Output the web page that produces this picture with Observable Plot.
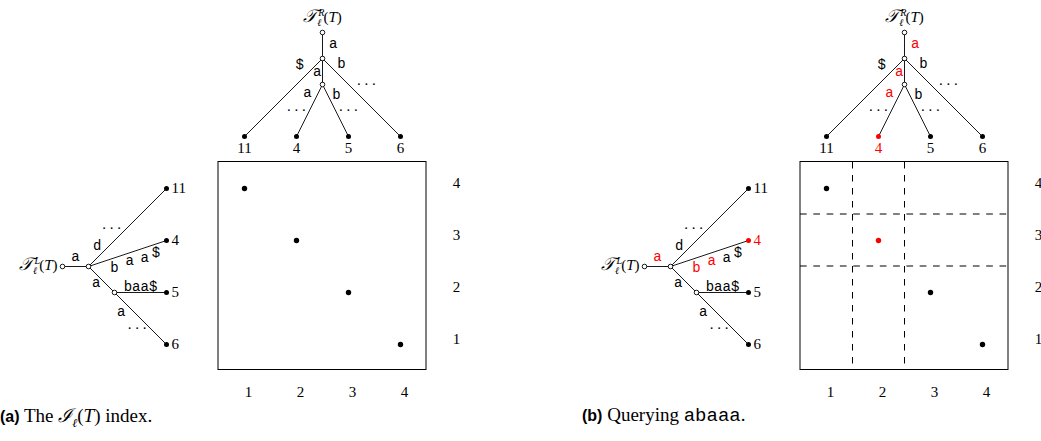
<!DOCTYPE html>
<html><head><meta charset="utf-8">
<script src="https://cdn.jsdelivr.net/npm/d3@7"></script>
<script src="https://cdn.jsdelivr.net/npm/@observablehq/plot@0.6"></script>
<style>
html,body{margin:0;padding:0;background:#fff;overflow:hidden;width:1041px;height:441px}
.panel{position:absolute;top:0;width:520px;height:441px}
.panel svg{position:absolute;left:0;top:0;overflow:visible}
.cap{position:absolute;left:0;top:406px;white-space:nowrap;font-family:"Liberation Serif",serif;font-size:19px;line-height:18px;color:#000}
.cap b{font-family:"Liberation Sans","DejaVu Sans",sans-serif;font-weight:bold;font-size:16px}
.cap .tt{font-family:"Liberation Mono",monospace;font-size:19px}
.cap .cal{font-family:"DejaVu Serif",serif;font-style:italic;font-size:19px}
</style></head><body>
<div id="pa" class="panel" style="left:0"></div>
<div id="pb" class="panel" style="left:582px"></div>
<script>
// ---------------- data ----------------
const columns = [1, 2, 3, 4];                 // x tick labels
const rows = [1, 2, 3, 4];                    // y tick labels
const columnLeaves = ["11", "4", "5", "6"];   // leaves of T^R(T), column 1..4
const rowLeaves = ["6", "5", "4", "11"];      // leaves of T^L(T), row 1..4
const pointColumns = [1, 2, 3, 4];
const pointRows = [4, 3, 2, 1];
const rightEdges = [
  {parent: "root", child: "u", label: "a"},
  {parent: "u", child: "11", label: "$"},
  {parent: "u", child: "v", label: "a"},
  {parent: "v", child: "4", label: "a"},
  {parent: "v", child: "5", label: "b"},
  {parent: "u", child: "6", label: "b"}
];
const leftEdges = [
  {parent: "root", child: "u", label: "a"},
  {parent: "u", child: "11", label: "d"},
  {parent: "u", child: "4", label: "baa$"},
  {parent: "u", child: "v", label: "a"},
  {parent: "v", child: "5", label: "baa$"},
  {parent: "v", child: "6", label: "a"}
];
const query = "abaaa";
const queryLeaf = "4";          // leaf reached in both trees
const matchedLeft = 3;          // characters of the query matched in T^L
const matchedRight = 3;         // characters of the query matched in T^R
const queryColumns = [2, 2];    // column range reported
const queryRows = [3, 3];       // row range reported

// ---------------- layout (grid units) ----------------
const cell = 52, x0 = 244, y0 = 344;
const rightNodes = {root: [2.5, 7], u: [2.5, 6.5], v: [2.5, 6]};
const rightLeafRow = 5;
const leftNodes = {root: [-2.5, 2.5], u: [-2, 2.5], v: [-1.5, 2]};
const leftLeafCol = -0.5;
// label placement per edge (keyed by child): [t along edge, perpendicular px]
const rightLabelPlace = {u: [[0.45, 10.7]], "11": [[0.19, -11.3]], v: [[0.54, -5.2]], "4": [[0.254, -9.4]], "5": [[0.277, 7.6]], "6": [[0.16, 9]]};
const leftLabelPlace = {u: [[0.5, 8.7]], "11": [[0.184, 8]], "4": [[0.29, -10.2], [0.494, -8.2], [0.68, -9.8], [0.83, -8.8]], v: [[0.47, -6.4]], "5": [[0.5, 5.3]], "6": [[0.254, -9.2]]};
const rightEllipsis = [["4", 0.584, -12.1], ["5", 0.584, 12], ["6", 0.442, 13.4]];
const leftEllipsis = [["11", 0.395, 11], ["6", 0.55, -8.5]];

const RED = "#ff0000", INK = "#000";
const serif = "Liberation Serif, serif";
const mono = "Liberation Mono, monospace";

function buildTree(edges, nodes, leafPos, place, ellipsis, matched, highlight) {
  const pos = (id) => nodes[id] || leafPos(id);
  const byChild = new Map(edges.map(e => [e.child, e]));
  const path = [];
  let c = queryLeaf;
  while (byChild.has(c)) { path.unshift(byChild.get(c)); c = byChild.get(c).parent; }
  const redChars = new Map();
  let left = highlight ? matched : 0;
  for (const e of path) { const k = Math.min(left, e.label.length); redChars.set(e.child, k); left -= k; }
  const links = edges.map(e => {
    const [c1, r1] = pos(e.parent), [c2, r2] = pos(e.child);
    return {x1: c1, y1: r1, x2: c2, y2: r2};
  });
  const along = (e, t, off) => {
    const [c1, r1] = pos(e.parent), [c2, r2] = pos(e.child);
    const dc = c2 - c1, dr = r2 - r1, L = Math.hypot(dc, dr);
    return {x: c1 + t * dc - off * dr / (cell * L), y: r1 + t * dr + off * dc / (cell * L)};
  };
  const labels = [];
  for (const e of edges) {
    const pl = place[e.child];
    const nred = redChars.get(e.child) || 0;
    if (pl.length === 1) {
      labels.push({...along(e, pl[0][0], pl[0][1]), text: e.label, color: nred >= e.label.length ? RED : INK});
    } else {
      [...e.label].forEach((ch, i) => labels.push({...along(e, pl[i][0], pl[i][1]), text: ch, color: i < nred ? RED : INK}));
    }
  }
  const dots = ellipsis.map(([child, t, off]) => along(byChild.get(child), t, off));
  const internal = Object.keys(nodes).map(id => ({x: nodes[id][0], y: nodes[id][1]}));
  return {links, labels, dots, internal};
}

function panel(highlight) {
  const right = buildTree(rightEdges, rightNodes, id => [columnLeaves.indexOf(id) + 1, rightLeafRow], rightLabelPlace, rightEllipsis, matchedRight, highlight);
  const left = buildTree(leftEdges, leftNodes, id => [leftLeafCol, rowLeaves.indexOf(id) + 1], leftLabelPlace, leftEllipsis, matchedLeft, highlight);
  const topLeaves = columnLeaves.map((id, i) => ({x: columns[i], y: rightLeafRow, text: id, color: highlight && id === queryLeaf ? RED : INK}));
  const sideLeaves = rowLeaves.map((id, i) => ({x: leftLeafCol, y: rows[i], text: id, color: highlight && id === queryLeaf ? RED : INK}));
  const pts = pointColumns.map((c, i) => ({x: c, y: pointRows[i],
    color: highlight && c >= queryColumns[0] && c <= queryColumns[1] && pointRows[i] >= queryRows[0] && pointRows[i] <= queryRows[1] ? RED : INK}));
  const box = [{x1: columns[0] - 0.5, x2: columns[columns.length - 1] + 0.5, y1: rows[0] - 0.5, y2: rows[rows.length - 1] + 0.5}];
  const vBounds = highlight ? [queryColumns[0] - 0.5, queryColumns[1] + 0.5] : [];
  const hBounds = highlight ? [queryRows[1] + 0.5, queryRows[0] - 0.5] : [];
  const titles = [{x: rightNodes.root[0], y: rightNodes.root[1], text: "§R"}];
  const ltitles = [{x: leftNodes.root[0], y: leftNodes.root[1], text: "§L"}];
  const svg = Plot.plot({
    width: 520, height: 400, margin: 0,
    x: {type: "linear", domain: [1, 4], range: [x0, x0 + 3 * cell], axis: null},
    y: {type: "linear", domain: [1, 4], range: [y0, y0 - 3 * cell], axis: null},
    color: {type: "identity"},
    marks: [
      Plot.ruleX(vBounds, {x: d => d, y1: box[0].y2, y2: box[0].y1, stroke: INK, strokeWidth: 1, strokeDasharray: "6.5,6.5"}),
      Plot.ruleY(hBounds, {y: d => d, x1: box[0].x1, x2: box[0].x2, stroke: INK, strokeWidth: 1, strokeDasharray: "6.7,6.6", dy: -0.5}),
      Plot.rect(box, {x1: "x1", x2: "x2", y1: "y1", y2: "y2", fill: "none", stroke: INK, strokeWidth: 1, dy: -0.5}),
      Plot.dot(pts, {x: "x", y: "y", r: 2.7, fill: "color", stroke: null}),
      Plot.link(right.links, {x1: "x1", y1: "y1", x2: "x2", y2: "y2", stroke: INK, strokeWidth: 0.9}),
      Plot.link(left.links, {x1: "x1", y1: "y1", x2: "x2", y2: "y2", stroke: INK, strokeWidth: 0.9}),
      Plot.dot([...right.internal, ...left.internal], {x: "x", y: "y", r: 2.3, fill: "white", stroke: INK, strokeWidth: 0.9}),
      Plot.dot(topLeaves, {x: "x", y: "y", r: 2.5, fill: "color", stroke: null}),
      Plot.dot(sideLeaves, {x: "x", y: "y", r: 2.5, fill: "color", stroke: null}),
      Plot.text(topLeaves, {x: "x", y: "y", text: "text", fill: "color", dy: 12, fontSize: 15, fontFamily: serif}),
      Plot.text(sideLeaves, {x: "x", y: "y", text: "text", fill: "color", dx: 5, textAnchor: "start", fontSize: 15, fontFamily: serif}),
      Plot.text(columns, {x: d => d, y: box[0].y1, text: d => String(d), dy: 22, dx: 4, fontSize: 15, fontFamily: serif}),
      Plot.text(rows, {x: box[0].x2, y: d => d, text: d => String(d), dx: 30, dy: -5, fontSize: 15, fontFamily: serif}),
      Plot.text([...right.labels, ...left.labels], {x: "x", y: "y", text: "text", fill: "color", dy: -1, fontSize: 14, fontFamily: mono}),
      Plot.text([...right.dots, ...left.dots], {x: "x", y: "y", text: () => ". . .", lineAnchor: "bottom", dy: 1.5, fontSize: 15, fontFamily: serif}),
      Plot.text(titles, {x: "x", y: "y", text: "text", dy: -15, fontSize: 15, fontFamily: serif}),
      Plot.text(ltitles, {x: "x", y: "y", text: "text", dx: -5, dy: -1, textAnchor: "end", fontSize: 15, fontFamily: serif})
    ]
  });
  // typeset the tree names  T_l^R(T), T_l^L(T)
  svg.querySelectorAll("text").forEach(t => {
    const s = t.textContent;
    if (s !== "§R" && s !== "§L") return;
    const sup = s.slice(1);
    const sel = d3.select(t);
    sel.text(null);
    sel.append("tspan").attr("font-family", "DejaVu Serif, serif").attr("font-size", 18).attr("font-style", "italic").text("𝒯");
    sel.append("tspan").attr("font-size", 10).attr("font-style", "italic").attr("dy", -6).attr("dx", 1).text(sup);
    sel.append("tspan").attr("font-size", 10).attr("font-style", "italic").attr("dx", -7).attr("dy", 10).text("ℓ");
    sel.append("tspan").attr("dy", -4).attr("dx", 2).text("(");
    sel.append("tspan").attr("font-style", "italic").text("T");
    sel.append("tspan").text(")");
  });
  return svg;
}

const pa = document.getElementById("pa"), pb = document.getElementById("pb");
pa.appendChild(panel(false));
pb.appendChild(panel(true));
const capA = document.createElement("div");
capA.className = "cap";
capA.innerHTML = '<b>(a)</b> The <span class="cal">ℐ</span><sub style="font-size:12px;font-style:italic">ℓ</sub>(<i>T</i>) index.';
pa.appendChild(capA);
const capB = document.createElement("div");
capB.className = "cap";
capB.innerHTML = '<b>(b)</b> Querying <span class="tt">' + query + '</span>.';
pb.appendChild(capB);
</script>
</body></html>
